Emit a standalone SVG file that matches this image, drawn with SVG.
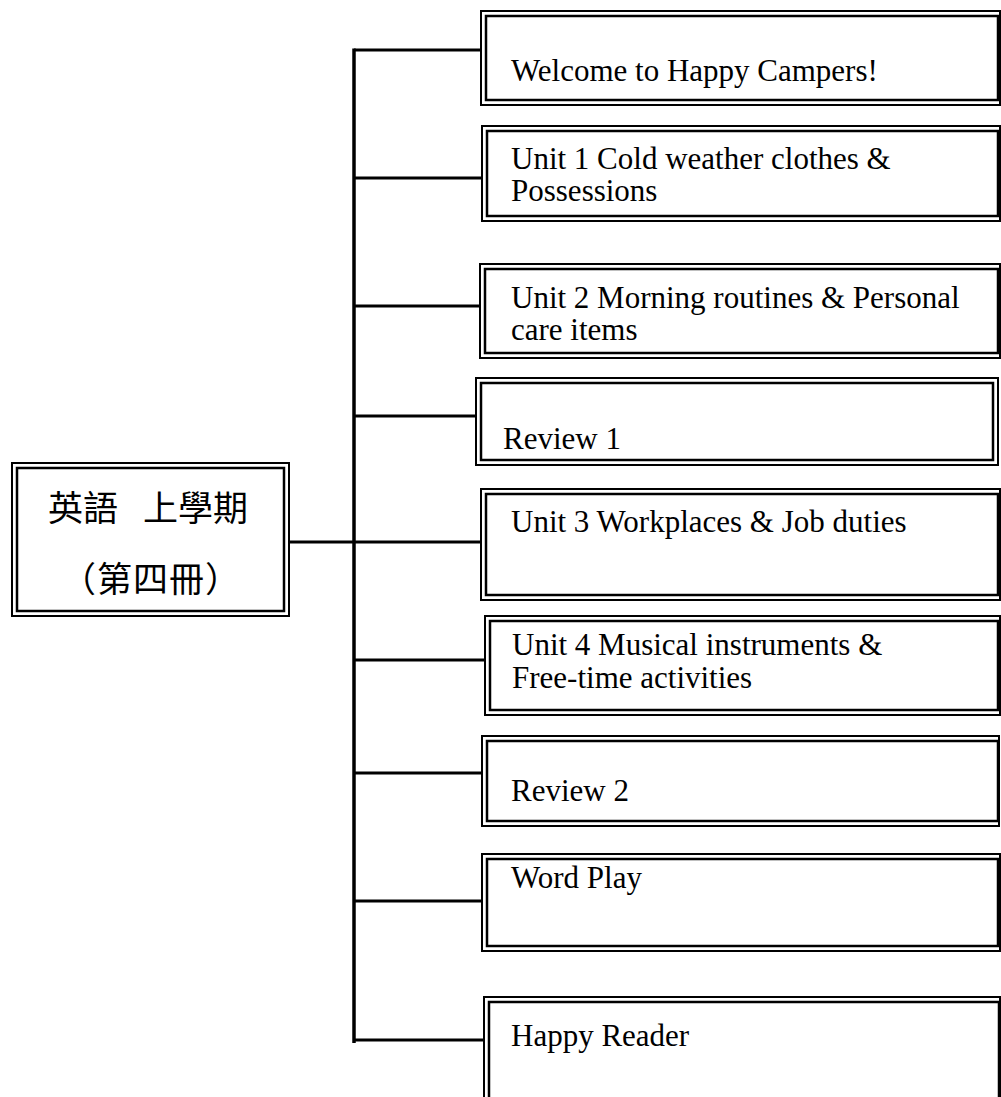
<svg xmlns="http://www.w3.org/2000/svg" width="1001" height="1097" viewBox="0 0 1001 1097">
<style>
.o{fill:#fff;stroke:#000;stroke-width:2}
.i{fill:none;stroke:#000;stroke-width:2.5}
.t{font-family:"Liberation Serif","Times New Roman",serif;font-size:31px;fill:#000}
.c{font-family:"Liberation Serif","Noto Sans CJK TC",serif;font-size:35px;fill:#000}
.ln{stroke:#000;stroke-width:3.5;fill:none}
.h{stroke:#000;stroke-width:3;fill:none}
</style>
<rect width="1001" height="1097" fill="#fff"/>
<g id="connectors">
<line class="ln" x1="354" y1="48.5" x2="354" y2="1043"/>
<line class="h" x1="289" y1="542" x2="481" y2="542"/>
<line class="h" x1="354" y1="50" x2="481" y2="50"/>
<line class="h" x1="354" y1="178" x2="482" y2="178"/>
<line class="h" x1="354" y1="306" x2="480" y2="306"/>
<line class="h" x1="354" y1="416" x2="476" y2="416"/>
<line class="h" x1="354" y1="660" x2="485" y2="660"/>
<line class="h" x1="354" y1="773" x2="482" y2="773"/>
<line class="h" x1="354" y1="901" x2="482" y2="901"/>
<line class="h" x1="354" y1="1040" x2="484" y2="1040"/>
</g>
<g id="root">
<rect class="o" x="12" y="463" width="277" height="153"/>
<rect class="i" x="17" y="468" width="267" height="143"/>
<text class="c" y="521"><tspan x="48">英語</tspan><tspan x="143">上學期</tspan></text>
<text class="c" x="151" y="592" text-anchor="middle" letter-spacing="1">（第四冊）</text>
</g>
<g id="welcome">
<rect class="o" x="481" y="11" width="519" height="94"/>
<rect class="i" x="486" y="16" width="512" height="84"/>
<text class="t" x="511" y="81">Welcome to Happy Campers!</text>
</g>
<g id="unit1">
<rect class="o" x="482" y="126" width="518" height="95"/>
<rect class="i" x="487" y="131" width="511" height="85"/>
<text class="t" x="511" y="169">Unit 1 Cold weather clothes &amp;</text>
<text class="t" x="511" y="201">Possessions</text>
</g>
<g id="unit2">
<rect class="o" x="480" y="264" width="520" height="94"/>
<rect class="i" x="485" y="269" width="513" height="84"/>
<text class="t" x="511" y="308">Unit 2 Morning routines &amp; Personal</text>
<text class="t" x="511" y="340">care items</text>
</g>
<g id="review1">
<rect class="o" x="476" y="378" width="522" height="87"/>
<rect class="i" x="481" y="383" width="512" height="77"/>
<text class="t" x="503" y="449">Review 1</text>
</g>
<g id="unit3">
<rect class="o" x="481" y="489" width="519" height="111"/>
<rect class="i" x="486" y="494" width="512" height="101"/>
<text class="t" x="511" y="532">Unit 3 Workplaces &amp; Job duties</text>
</g>
<g id="unit4">
<rect class="o" x="485" y="616" width="515" height="99"/>
<rect class="i" x="490" y="621" width="508" height="89"/>
<text class="t" x="512" y="655">Unit 4 Musical instruments &amp;</text>
<text class="t" x="512" y="688">Free-time activities</text>
</g>
<g id="review2">
<rect class="o" x="482" y="736" width="517" height="90"/>
<rect class="i" x="487" y="741" width="511" height="80"/>
<text class="t" x="511" y="801">Review 2</text>
</g>
<g id="wordplay">
<rect class="o" x="482" y="854" width="518" height="97"/>
<rect class="i" x="487" y="859" width="511" height="87"/>
<text class="t" x="511" y="888">Word Play</text>
</g>
<g id="happyreader">
<rect class="o" x="484" y="997" width="516" height="110"/>
<rect class="i" x="489" y="1002" width="510" height="110"/>
<text class="t" x="511" y="1046">Happy Reader</text>
</g>
</svg>
